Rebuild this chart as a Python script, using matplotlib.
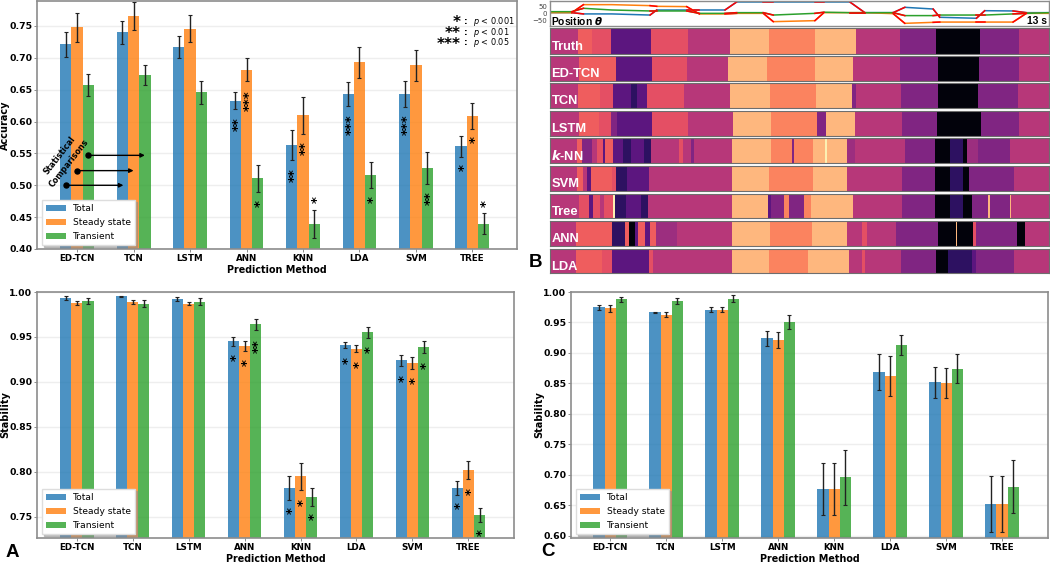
import matplotlib

matplotlib.use("Agg")
import matplotlib.pyplot as plt
import numpy as np

methods = ["ED-TCN", "TCN", "LSTM", "ANN", "KNN", "LDA", "SVM", "TREE"]
series_names = ["Total", "Steady state", "Transient"]
series_colors = ["#1f77b4", "#ff7f0e", "#2ca02c"]

# top left panel
acc_total = [0.721, 0.740, 0.717, 0.633, 0.563, 0.643, 0.643, 0.561]
acc_steady = [0.748, 0.766, 0.746, 0.681, 0.610, 0.693, 0.688, 0.609]
acc_trans = [0.657, 0.673, 0.646, 0.511, 0.439, 0.516, 0.527, 0.440]
acc_total_err = [0.019, 0.018, 0.018, 0.013, 0.023, 0.019, 0.020, 0.016]
acc_steady_err = [0.023, 0.022, 0.021, 0.018, 0.029, 0.024, 0.024, 0.020]
acc_trans_err = [0.017, 0.016, 0.018, 0.021, 0.022, 0.021, 0.025, 0.017]
# (method, series, number of stars, y)
acc_marks = [
    (3, 0, 2, 0.596), (3, 1, 3, 0.633), (3, 2, 1, 0.471),
    (4, 0, 2, 0.516), (4, 1, 2, 0.558), (4, 2, 1, 0.477),
    (5, 0, 3, 0.595), (5, 2, 1, 0.478),
    (6, 0, 3, 0.595), (6, 2, 2, 0.480),
    (7, 0, 1, 0.528), (7, 1, 1, 0.571), (7, 2, 1, 0.471),
]

# panel A
stab_a_total = [0.993, 0.995, 0.992, 0.945, 0.782, 0.941, 0.924, 0.782]
stab_a_steady = [0.988, 0.989, 0.987, 0.940, 0.795, 0.937, 0.921, 0.802]
stab_a_trans = [0.990, 0.987, 0.989, 0.964, 0.772, 0.955, 0.939, 0.752]
stab_a_total_err = [0.002, 0.001, 0.002, 0.005, 0.013, 0.003, 0.006, 0.008]
stab_a_steady_err = [0.002, 0.002, 0.002, 0.006, 0.015, 0.004, 0.007, 0.010]
stab_a_trans_err = [0.003, 0.004, 0.004, 0.006, 0.010, 0.006, 0.007, 0.008]
stab_a_marks = [
    (3, 0, 1, 0.9265), (3, 1, 1, 0.922), (3, 2, 2, 0.940),
    (4, 0, 1, 0.757), (4, 1, 1, 0.766), (4, 2, 1, 0.750),
    (5, 0, 1, 0.924), (5, 1, 1, 0.9195), (5, 2, 1, 0.9365),
    (6, 0, 1, 0.904), (6, 1, 1, 0.902), (6, 2, 1, 0.918),
    (7, 0, 1, 0.7625), (7, 1, 1, 0.7785), (7, 2, 1, 0.732),
]

# panel C
stab_c_total = [0.975, 0.967, 0.971, 0.924, 0.677, 0.869, 0.852, 0.653]
stab_c_steady = [0.973, 0.963, 0.971, 0.921, 0.677, 0.862, 0.851, 0.653]
stab_c_trans = [0.988, 0.985, 0.989, 0.951, 0.696, 0.913, 0.874, 0.681]
stab_c_total_err = [0.004, 0.001, 0.004, 0.012, 0.043, 0.030, 0.025, 0.046]
stab_c_steady_err = [0.005, 0.004, 0.004, 0.013, 0.043, 0.033, 0.024, 0.046]
stab_c_trans_err = [0.004, 0.005, 0.006, 0.011, 0.045, 0.016, 0.024, 0.044]

# position traces, 1500 samples = 13 s
trace_samples = [0, 67, 102, 187, 302, 322, 412, 450, 527, 562, 642, 672, 797,
                 824, 902, 947, 1032, 1067, 1152, 1172, 1282, 1307, 1392, 1432, 1500]
trace_blue = [7, 7, -2, -2, -10, 26, 26, 26, 26, 83, 83, 83, 83,
              83, 83, 7, 7, 45, 33, -26, -33, 21, 19, 7, 7]
trace_orange = [7, 7, 64, 64, 57, 52, 50, -2, -2, 2, 2, -57, -50,
                7, 7, 7, 0, -69, -62, -60, -60, -60, -60, 2, 2]
trace_green = [14, 14, 38, 26, 19, 19, 19, 2, 2, 7, 7, -10, 2,
               10, 7, 7, 7, -14, -14, -10, -10, -10, -2, 2, 7]
# index of knots that start a red transition piece
trace_red = [1, 4, 6, 8, 10, 12, 14, 16, 18, 20, 22]

# gait class levels on the magma map
BK, D2, DK, PU, PM, MG = 0.02, 0.17, 0.28, 0.37, 0.44, 0.50
RD, SA, OR, LT, PA = 0.62, 0.66, 0.74, 0.85, 0.97

strip_names = ["Truth", "ED-TCN", "TCN", "LSTM", r"$\mathbfit{k}$-NN", "SVM", "Tree", "ANN", "LDA"]
truth_edges = [0, 87, 127, 185, 305, 415, 542, 660, 797, 920, 1052, 1162, 1292, 1410, 1500]
truth_levels = [MG, SA, RD, DK, RD, MG, LT, OR, LT, MG, PU, BK, PU, MG]
edtcn_edges = [0, 90, 200, 307, 412, 537, 654, 797, 912, 1054, 1167, 1290, 1409, 1500]
edtcn_levels = [MG, SA, DK, RD, MG, LT, OR, LT, MG, PU, BK, PU, MG]
tcn_edges = [0, 87, 152, 192, 244, 264, 294, 404, 542, 662, 799, 909, 919, 1057, 1167, 1287, 1407, 1500]
tcn_levels = [MG, SA, RD, DK, D2, DK, RD, MG, LT, OR, LT, PU, MG, PU, BK, PU, MG]
lstm_edges = [0, 90, 150, 185, 204, 307, 415, 550, 664, 802, 830, 917, 1060, 1164, 1295, 1409, 1500]
lstm_levels = [MG, SA, RD, PU, DK, RD, MG, LT, OR, PU, LT, MG, PU, BK, PU, MG]
knn_edges = [0, 82, 99, 127, 142, 162, 167, 192, 220, 244, 284, 304, 390, 400, 424, 435, 547, 657, 665,
             727, 734, 792, 827, 832, 892, 917, 1067, 1159, 1202, 1242, 1254, 1287, 1382, 1500]
knn_levels = [MG, SA, PU, MG, RD, DK, SA, DK, D2, DK, D2, MG, RD, MG, PU, MG, LT, LT,
              OR, PU, OR, LT, PA, LT, PM, MG, PU, BK, D2, BK, PM, PU, MG]
svm_edges = [0, 84, 100, 112, 124, 187, 200, 234, 299, 547, 659, 792, 892, 1060, 1159, 1202, 1242, 1260, 1395, 1500]
svm_levels = [MG, SA, MG, DK, SA, RD, D2, DK, MG, LT, OR, LT, MG, PU, BK, D2, BK, PU, MG]
tree_edges = [0, 90, 120, 132, 152, 164, 190, 196, 230, 275, 297, 547, 657, 665, 704, 719, 765, 784,
              912, 1060, 1159, 1202, 1242, 1270, 1317, 1322, 1382, 1387, 1500]
tree_levels = [MG, RD, DK, RD, MG, RD, PA, D2, DK, D2, MG, LT, DK, PU, OR, PU, OR, LT,
               MG, PU, BK, D2, BK, PU, LT, PU, LT, MG]
ann_edges = [0, 80, 187, 227, 240, 257, 267, 287, 302, 320, 384, 547, 662, 787, 892, 937, 952,
             1042, 1167, 1222, 1225, 1272, 1280, 1405, 1427, 1500]
ann_levels = [MG, SA, D2, SA, BK, DK, SA, DK, SA, PM, MG, LT, OR, LT, MG, RD, MG,
              PU, BK, LT, BK, RD, PU, BK, MG]
lda_edges = [0, 80, 157, 187, 234, 299, 312, 547, 659, 777, 899, 937, 947, 1057, 1162, 1197, 1270, 1280, 1395, 1500]
lda_levels = [MG, SA, RD, DK, DK, RD, MG, LT, OR, LT, MG, RD, MG, PU, BK, D2, DK, PU, MG]
strip_edges = [truth_edges, edtcn_edges, tcn_edges, lstm_edges, knn_edges, svm_edges, tree_edges, ann_edges, lda_edges]
strip_levels = [truth_levels, edtcn_levels, tcn_levels, lstm_levels, knn_levels, svm_levels, tree_levels, ann_levels, lda_levels]
strip_tops = [28, 56, 83, 110.5, 138, 166, 194, 221, 249]
strip_bottoms = [53.5, 81, 108, 135.5, 163, 190.5, 218, 246, 273]

FIG_W, FIG_H = 1050, 562
SPINE = "#8c8c8c"
SANS = ["Liberation Sans", "DejaVu Sans"]

plt.rcParams["font.family"] = ["DejaVu Sans"]
fig = plt.figure(figsize=(FIG_W / 100, FIG_H / 100), dpi=100)


def axes_px(left, top, right, bottom):
    return fig.add_axes([left / FIG_W, 1 - bottom / FIG_H, (right - left) / FIG_W, (bottom - top) / FIG_H])


def draw_bars(ax, values, errors, ylim, yticks, xlim):
    x = np.arange(len(methods))
    for i, (name, color) in enumerate(zip(series_names, series_colors)):
        ax.bar(x + (i - 1) * 0.2, values[i], 0.2, color=color, alpha=0.8, label=name,
               yerr=errors[i], error_kw={"ecolor": "#222222", "elinewidth": 1.0, "capsize": 1.2, "capthick": 0.8},
               zorder=2)
    ax.set_xlim(*xlim)
    ax.set_ylim(*ylim)
    ax.set_xticks(x)
    ax.set_xticklabels(methods, fontsize=6.3, fontweight="bold")
    ax.set_yticks(yticks)
    ax.set_yticklabels([f"{t:.2f}" for t in yticks], fontsize=6.7, fontweight="bold")
    ax.tick_params(length=2.2, width=0.7, pad=1.2, color=SPINE)
    ax.grid(axis="y", color="#eeeeee", linewidth=1, zorder=0)
    ax.set_axisbelow(True)
    ax.set_xlabel("Prediction Method", fontsize=6.9, fontweight="bold", labelpad=1.5)
    ax.set_ylabel(ax.get_ylabel(), fontsize=7, fontweight="bold", labelpad=-0.7)
    for spine in ax.spines.values():
        spine.set_color(SPINE)
        spine.set_linewidth(1.2)
    legend = ax.legend(loc="lower left", bbox_to_anchor=(0.011, 0.017), borderaxespad=0, fontsize=6.6,
                       fancybox=False, framealpha=1, edgecolor="#dddddd", handlelength=2.2, labelspacing=0.55,
                       shadow={"ox": 1.5, "oy": -1.5, "shade": 0.45})
    legend.set_zorder(7)


def draw_marks(ax, marks):
    for method, series, count, y in marks:
        ax.annotate("*" * count, xy=(method + (series - 1) * 0.2, y), xytext=(2.0, 0), textcoords="offset points",
                    rotation=90, ha="center", va="center", fontsize=9.5, fontweight="bold",
                    color="black", zorder=5)


# accuracy panel
ax_acc = axes_px(37, 0.5, 517, 249)
ax_acc.set_ylabel("Accuracy")
draw_bars(ax_acc, [acc_total, acc_steady, acc_trans], [acc_total_err, acc_steady_err, acc_trans_err],
          (0.40, 0.790), np.arange(0.40, 0.76, 0.05), (-0.71, 7.79))
draw_marks(ax_acc, acc_marks)
for y_pos, x_from, x_to in [(0.500, -0.20, 0.82), (0.523, 0.0, 1.0), (0.547, 0.20, 1.20)]:
    ax_acc.annotate("", xy=(x_to, y_pos), xytext=(x_from, y_pos), zorder=6,
                    arrowprops={"arrowstyle": "-|>", "color": "black", "lw": 1.0, "shrinkA": 0, "shrinkB": 0, "mutation_scale": 6})
    ax_acc.plot([x_from], [y_pos], "o", color="black", markersize=3.6, zorder=6)
ax_acc.text(-0.23, 0.541, "Statistical\nComparisons", rotation=52, ha="center", va="center", fontsize=5.8,
            fontweight="bold", linespacing=1.4, zorder=6)
for y_frac, stars, label in [(0.917, "*", "$p$ < 0.001"), (0.873, "**", "$p$ < 0.01"), (0.829, "***", "$p$ < 0.05")]:
    ax_acc.text(0.883, y_frac, stars, transform=ax_acc.transAxes, ha="right", va="center_baseline", fontsize=11, fontweight="bold")
    ax_acc.text(0.894, y_frac, ":", transform=ax_acc.transAxes, ha="center", va="center", fontsize=6.5, fontweight="bold")
    ax_acc.text(0.908, y_frac, label, transform=ax_acc.transAxes, ha="left", va="center", fontsize=5.9)

# panel A
ax_a = axes_px(37, 292, 514, 538)
ax_a.set_ylabel("Stability")
draw_bars(ax_a, [stab_a_total, stab_a_steady, stab_a_trans], [stab_a_total_err, stab_a_steady_err, stab_a_trans_err],
          (0.7263, 1.0), np.arange(0.75, 1.01, 0.05), (-0.71, 7.815))
draw_marks(ax_a, stab_a_marks)

# panel C
ax_c = axes_px(571, 292, 1048, 538)
ax_c.set_ylabel("Stability")
draw_bars(ax_c, [stab_c_total, stab_c_steady, stab_c_trans], [stab_c_total_err, stab_c_steady_err, stab_c_trans_err],
          (0.5967, 1.0), np.arange(0.60, 1.01, 0.05), (-0.70, 7.82))

# position traces
ax_pos = axes_px(549.5, 1, 1049, 26)
for values, color in zip([trace_blue, trace_orange, trace_green], series_colors):
    ax_pos.plot(trace_samples, values, color=color, linewidth=1.1)
    for start in trace_red:
        ax_pos.plot(trace_samples[start:start + 2], values[start:start + 2], color="red", linewidth=1.1)
ax_pos.set_xlim(0, 1500)
ax_pos.set_ylim(-88, 90)
ax_pos.set_xticks([])
ax_pos.set_yticks([-50, 0, 50])
ax_pos.tick_params(axis="y", labelsize=5, length=0, pad=1.5, colors="#444444")
for spine in ax_pos.spines.values():
    spine.set_color(SPINE)
    spine.set_linewidth(1)
ax_pos.text(0.004, 0.2, r"Position $\mathbfit{\theta}$", transform=ax_pos.transAxes, ha="left", va="center",
            fontsize=7.4, fontweight="bold", family=SANS)
ax_pos.text(0.996, 0.2, "13 s", transform=ax_pos.transAxes, ha="right", va="center",
            fontsize=7.4, fontweight="bold", family=SANS)

# prediction strips
for name, edges, levels, top, bottom in zip(strip_names, strip_edges, strip_levels, strip_tops, strip_bottoms):
    ax_strip = axes_px(549.5, top, 1049, bottom)
    ax_strip.pcolormesh(edges, [0, 1], np.array([levels]), cmap="magma", vmin=0, vmax=1)
    ax_strip.set_xlim(0, 1500)
    ax_strip.set_xticks([])
    ax_strip.set_yticks([])
    for spine in ax_strip.spines.values():
        spine.set_color("#6e6e6e")
        spine.set_linewidth(0.8)
    ax_strip.text(0.004, 0.27, name, transform=ax_strip.transAxes, ha="left", va="center", color="white",
                  fontsize=9.3, fontweight="bold", family=SANS)

for x_px, y_px, letter in [(6, 557, "A"), (529, 267, "B"), (541.5, 556, "C")]:
    fig.text(x_px / FIG_W, 1 - y_px / FIG_H, letter, fontsize=13.5, fontweight="bold", va="baseline", family=SANS)

fig.savefig("out.png", dpi=100, facecolor="white")
